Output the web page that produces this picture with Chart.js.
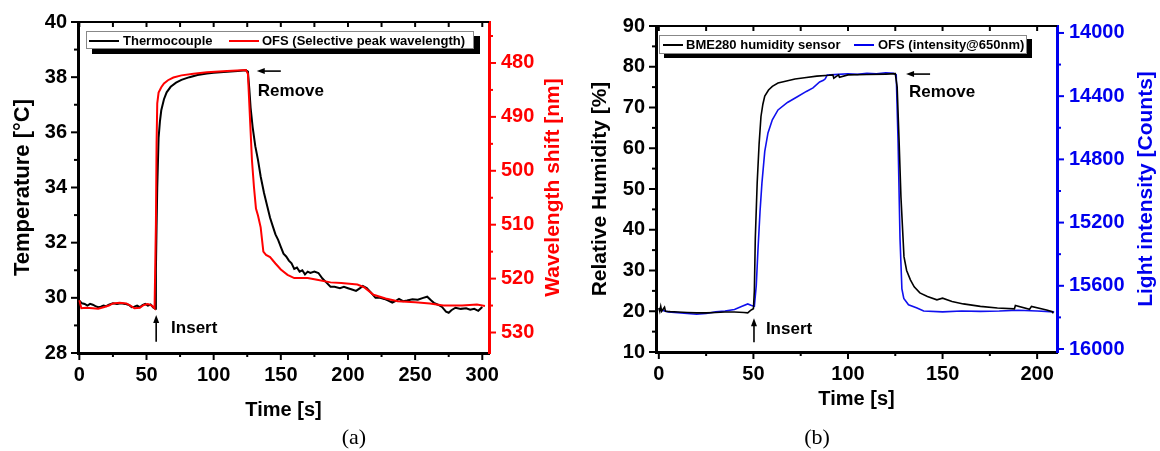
<!DOCTYPE html>
<html>
<head>
<meta charset="utf-8">
<script src="https://cdn.jsdelivr.net/npm/chart.js@4.4.1/dist/chart.umd.min.js"></script>
<style>
  body { margin: 0; background: #fff; }
  #wrap { position: relative; width: 1160px; height: 451px; overflow: hidden; }
  .pane { position: absolute; top: 0; width: 580px; height: 451px; }
  .lg { position: absolute; border: 1px solid #888; background: #fff; }
  .ln { position: absolute; top: 8px; height: 2px; }
  .tx { position: absolute; top: 0; font: bold 13px/17px "Liberation Sans", Arial, sans-serif; color: #000; white-space: nowrap; }
  .cap { position: absolute; top: 424px; width: 60px; text-align: center; font: 22px "Liberation Serif", "Times New Roman", serif; color: #000; }
</style>
</head>
<body>
<div id="wrap">
  <div class="pane" style="left:0"><canvas id="chartA" width="580" height="451"></canvas></div>
  <div class="pane" style="left:580px"><canvas id="chartB" width="580" height="451"></canvas></div>

  <div class="lg" style="left:86px;top:31px;width:386px;height:16px;box-shadow:6px 5px 0 #000;">
    <span class="ln" style="left:2px;width:30px;background:#000"></span>
    <span class="tx" style="left:36px">Thermocouple</span>
    <span class="ln" style="left:142px;width:30px;background:#ff0000"></span>
    <span class="tx" style="left:175px">OFS (Selective peak wavelength)</span>
  </div>
  <div class="lg" style="left:659px;top:35px;width:366px;height:17px;box-shadow:5px 4px 0 #000;">
    <span class="ln" style="left:3px;width:20px;background:#000"></span>
    <span class="tx" style="left:26px">BME280 humidity sensor</span>
    <span class="ln" style="left:194px;width:20px;background:#0000ee"></span>
    <span class="tx" style="left:218px">OFS (intensity@650nm)</span>
  </div>

  <div class="cap" style="left:324px">(a)</div>
  <div class="cap" style="left:787px">(b)</div>
</div>

<script>
Chart.defaults.font.family = '"Liberation Sans", Arial, sans-serif';
Chart.defaults.color = "#000";

// (a) temperature test
var timeTicksA = [0, 50, 100, 150, 200, 250, 300];
var timeMinorA = [25, 75, 125, 175, 225, 275];
var tempTicks = [28, 30, 32, 34, 36, 38, 40];
var tempMinor = [29, 31, 33, 35, 37, 39];
var wlTicks = [480, 490, 500, 510, 520, 530];
var wlMinor = [475, 485, 495, 505, 515, 525];

var tcTime = [0, 2, 4, 6, 8, 10, 12, 14, 16, 18, 20, 22, 25, 28, 31, 34, 37, 39, 41, 43, 45, 47, 49, 51, 53, 55, 56.5,
  57, 57.5, 58, 59, 60, 61, 63, 65, 68, 72, 76, 82, 88, 95, 100, 110, 118, 124,
  125.5, 126.5, 127.5, 129, 131, 133, 135, 137.5, 140, 142, 144, 146, 148, 150, 152, 154, 156, 158, 160, 162, 164, 166,
  168, 170, 172, 175, 178, 181, 184, 187, 190, 194, 197, 200, 203, 206, 209, 211, 214, 217, 220.5, 224, 227, 230, 233,
  236, 238, 241, 244, 248, 252, 256, 259, 262, 264, 267, 270, 273, 275, 277, 280, 284, 288, 291, 294, 297, 300];
var tcTemp = [29.9, 29.8, 29.78, 29.72, 29.78, 29.75, 29.7, 29.66, 29.68, 29.72, 29.7, 29.75, 29.8, 29.78, 29.8, 29.78, 29.74, 29.66, 29.68, 29.72, 29.66, 29.74, 29.78, 29.72, 29.76, 29.65, 29.6,
  31.0, 32.6, 34.0, 35.8, 36.4, 36.8, 37.2, 37.45, 37.65, 37.8, 37.9, 38.0, 38.08, 38.13, 38.16, 38.2, 38.22, 38.25,
  38.2, 37.6, 36.9, 36.2, 35.5, 35.0, 34.4, 33.8, 33.3, 32.9, 32.6, 32.3, 32.1, 31.85, 31.6, 31.5, 31.35, 31.25, 31.05, 31.1, 30.95, 31.0,
  30.85, 30.95, 30.9, 30.95, 30.9, 30.7, 30.55, 30.4, 30.4, 30.35, 30.4, 30.35, 30.3, 30.25, 30.35, 30.43, 30.35, 30.2, 30.0, 30.0, 29.96, 29.9, 29.83,
  29.9, 29.96, 29.88, 29.9, 29.95, 29.93, 30.0, 30.04, 29.9, 29.82, 29.75, 29.67, 29.5, 29.46, 29.55, 29.64, 29.6, 29.62, 29.57, 29.6, 29.53, 29.67];

var ofsTime = [0, 1.5, 5, 10, 14, 18, 22, 25, 30, 35, 38, 41, 45, 48, 51, 54, 56,
  57, 57.5, 58, 59, 61, 63, 66, 70, 76, 85, 95, 110, 124,
  125.5, 127, 128.5, 130, 131.5, 133, 135, 137, 139, 142, 146, 150, 155, 160, 170, 177, 187,
  195, 207, 212, 219, 228, 237, 250, 261, 271, 285, 296, 302];
var ofsWl = [524.0, 525.5, 525.4, 525.5, 525.6, 525.3, 525.0, 524.6, 524.5, 524.6, 525.0, 525.5, 525.4, 524.9, 524.7, 525.0, 525.5,
  510, 495, 487.5, 485.5, 484.5, 483.8, 483.2, 482.7, 482.3, 482.0, 481.7, 481.5, 481.3,
  482, 490, 498, 503, 507, 508.3, 510.5, 515.0, 515.6, 516.0, 517.2, 518.3, 519.3, 519.9, 519.9, 520.2, 520.7,
  520.8, 521.1, 521.6, 523.0, 523.7, 524.2, 524.4, 524.6, 525.0, 525.0, 524.8, 525.1];

// (b) humidity test
var timeTicksB = [0, 50, 100, 150, 200];
var timeMinorB = [25, 75, 125, 175];
var humTicks = [10, 20, 30, 40, 50, 60, 70, 80, 90];
var humMinor = [15, 25, 35, 45, 55, 65, 75, 85];
var cntTicks = [14000, 14400, 14800, 15200, 15600, 16000];
var cntMinor = [14200, 14600, 15000, 15400, 15800];

var bmeTime = [0, 0.5, 1, 1.5, 3, 3.5, 6, 10, 15, 20, 25, 30, 35, 40, 45, 47, 48.5, 49.5, 50,
  50.5, 51, 52, 53, 54, 55, 56, 58, 60, 63, 67.5, 72, 77, 83.5, 90, 92, 92.5, 95, 95.5, 100, 110, 120, 125,
  126, 127, 128, 129.6, 131, 133, 135, 138, 142, 147, 150, 155, 161, 170, 179, 188, 188.5, 196, 197, 205, 208, 208.5];
var bmeHum = [20.8, 20.0, 21.2, 20.0, 21.0, 20.0, 19.9, 19.8, 19.7, 19.6, 19.6, 19.7, 19.8, 19.8, 19.7, 19.6, 20.2, 20.5, 20.6,
  25, 38, 51.6, 61, 67.8, 70.8, 72.8, 74.3, 75.2, 76.0, 76.5, 77.0, 77.3, 77.7, 77.9, 78.0, 77.2, 78.0, 77.4, 78.0, 78.1, 78.2, 78.3,
  75, 62, 48, 33.4, 30.0, 27.7, 26.0, 24.5, 23.6, 22.8, 23.2, 22.4, 21.8, 21.2, 20.8, 20.6, 21.4, 20.5, 21.2, 20.3, 19.9, 19.5];

var ofsTimeB = [0, 5, 10, 15, 20, 25, 30, 35, 40, 44, 47, 49, 50.5, 51.5, 52.4, 53.5, 54.5, 56, 57.7, 60, 63, 68, 73, 78, 81.5,
  85, 87, 88, 89, 95, 100, 105, 110, 115, 120, 124,
  125.5, 126.5, 127.5, 128.5, 129.5, 132, 136.5, 140, 150, 160, 170, 180, 190, 200, 209];
var ofsCounts = [15750, 15765, 15770, 15775, 15780, 15775, 15765, 15760, 15750, 15730, 15715, 15725, 15730, 15600, 15374, 15130, 14950, 14750, 14633, 14550, 14487, 14440, 14405, 14370, 14348,
  14310, 14300, 14290, 14266, 14262, 14258, 14262, 14255, 14258, 14252, 14255,
  14265, 14700, 15300, 15620, 15680, 15720, 15740, 15760, 15765, 15760, 15762, 15760, 15755, 15760, 15765];

function pts(xs, ys) {
  return xs.map(function (x, i) { return { x: x, y: ys[i] }; });
}
function fixed(list) {
  return function (scale) { scale.ticks = list.map(function (v) { return { value: v }; }); };
}
function plain(v) { return String(v); }

// outward / inward tick marks incl. minor ticks, plus top frame line
var tickMarks = {
  id: "tickMarks",
  afterDraw: function (chart, args, opts) {
    var ctx = chart.ctx, a = chart.chartArea;
    ctx.save();
    ctx.lineCap = "butt";
    ctx.strokeStyle = "#000";
    ctx.lineWidth = 2;
    ctx.beginPath();
    ctx.moveTo(a.left, a.top);
    ctx.lineTo(a.right, a.top);
    ctx.stroke();
    opts.marks.forEach(function (m) {
      var s = chart.scales[m.scale];
      ctx.strokeStyle = m.color || "#000";
      ctx.lineWidth = 2;
      m.values.forEach(function (v) {
        var p = s.getPixelForValue(v);
        ctx.beginPath();
        if (m.edge === "bottom") { ctx.moveTo(p, a.bottom); ctx.lineTo(p, a.bottom + m.len); }
        if (m.edge === "top") { ctx.moveTo(p, a.top); ctx.lineTo(p, a.top + m.len); }
        if (m.edge === "left") { ctx.moveTo(a.left, p); ctx.lineTo(a.left - m.len, p); }
        if (m.edge === "right") { ctx.moveTo(a.right, p); ctx.lineTo(a.right + m.len, p); }
        ctx.stroke();
      });
    });
    ctx.restore();
  }
};

// right-hand axis title, reading bottom to top
var sideTitle = {
  id: "sideTitle",
  afterDraw: function (chart, args, o) {
    var a = chart.chartArea, ctx = chart.ctx;
    ctx.save();
    ctx.translate(o.x, (a.top + a.bottom) / 2);
    ctx.rotate(-Math.PI / 2);
    ctx.font = 'bold 21px "Liberation Sans", Arial, sans-serif';
    ctx.fillStyle = o.color;
    ctx.textAlign = "center";
    ctx.textBaseline = "middle";
    ctx.fillText(o.text, 0, 0);
    ctx.restore();
  }
};

// Remove / Insert arrows and labels, in data units
var notes = {
  id: "notes",
  afterDraw: function (chart, args, o) {
    var ctx = chart.ctx, sx = chart.scales.x, sy = chart.scales.y;
    ctx.save();
    ctx.strokeStyle = "#000";
    ctx.fillStyle = "#000";
    o.items.forEach(function (it) {
      if (it.arrow) {
        var x1 = sx.getPixelForValue(it.arrow[0]), y1 = sy.getPixelForValue(it.arrow[1]);
        var x2 = sx.getPixelForValue(it.arrow[2]), y2 = sy.getPixelForValue(it.arrow[3]);
        var ang = Math.atan2(y2 - y1, x2 - x1);
        ctx.lineWidth = 1.6;
        ctx.beginPath();
        ctx.moveTo(x1, y1);
        ctx.lineTo(x2 - 5 * Math.cos(ang), y2 - 5 * Math.sin(ang));
        ctx.stroke();
        ctx.beginPath();
        ctx.moveTo(x2, y2);
        ctx.lineTo(x2 - 8 * Math.cos(ang) + 3 * Math.sin(ang), y2 - 8 * Math.sin(ang) - 3 * Math.cos(ang));
        ctx.lineTo(x2 - 8 * Math.cos(ang) - 3 * Math.sin(ang), y2 - 8 * Math.sin(ang) + 3 * Math.cos(ang));
        ctx.closePath();
        ctx.fill();
      } else {
        ctx.font = 'bold 17px "Liberation Sans", Arial, sans-serif';
        ctx.textAlign = "left";
        ctx.textBaseline = "middle";
        ctx.fillText(it.text, sx.getPixelForValue(it.x), sy.getPixelForValue(it.y));
      }
    });
    ctx.restore();
  }
};

var tickFont = { size: 20, weight: "bold" };
var titleFont = { size: 21, weight: "bold" };

function lineSet(label, data, color, axis, width) {
  return { label: label, data: data, yAxisID: axis, borderColor: color, backgroundColor: color,
    borderWidth: width, pointRadius: 0, tension: 0, fill: false };
}

new Chart(document.getElementById("chartA"), {
  type: "line",
  data: {
    datasets: [
      lineSet("OFS (Selective peak wavelength)", pts(ofsTime, ofsWl), "#ff0000", "y1", 2),
      lineSet("Thermocouple", pts(tcTime, tcTemp), "#000000", "y", 2)
    ]
  },
  options: {
    responsive: false,
    animation: false,
    layout: { padding: { top: 22, left: 0, right: 0, bottom: 0 } },
    plugins: {
      legend: { display: false },
      tooltip: { enabled: false },
      tickMarks: { marks: [
        { scale: "x", edge: "bottom", values: timeTicksA, len: 7 },
        { scale: "x", edge: "bottom", values: timeMinorA, len: 4 },
        { scale: "x", edge: "top", values: timeTicksA.concat(timeMinorA), len: 5 },
        { scale: "y", edge: "left", values: tempTicks, len: 7 },
        { scale: "y", edge: "left", values: tempMinor, len: 4 },
        { scale: "y1", edge: "right", values: wlTicks, len: 7, color: "#ff0000" },
        { scale: "y1", edge: "right", values: wlMinor, len: 4, color: "#ff0000" }
      ] },
      sideTitle: { text: "Wavelength shift [nm]", color: "#ff0000", x: 553 },
      notes: { items: [
        { arrow: [150, 38.22, 132.1, 38.22] },
        { text: "Remove", x: 132.9, y: 37.5 },
        { arrow: [57.2, 28.41, 57.2, 29.38] },
        { text: "Insert", x: 68.3, y: 28.91 }
      ] }
    },
    scales: {
      x: {
        type: "linear", min: -1, max: 305,
        afterBuildTicks: fixed(timeTicksA),
        afterFit: function (s) { s.height = 98; },
        grid: { drawOnChartArea: false, tickLength: 7, tickColor: "rgba(0,0,0,0)" },
        border: { color: "#000", width: 3 },
        ticks: { font: tickFont, color: "#000", padding: 3, maxRotation: 0, autoSkip: false, callback: plain },
        title: { display: true, text: "Time [s]", color: "#000", font: { size: 20, weight: "bold" }, padding: { top: 0, bottom: 29 } }
      },
      y: {
        position: "left", min: 28, max: 40,
        afterBuildTicks: fixed(tempTicks),
        afterFit: function (s) { s.width = 78; },
        grid: { drawOnChartArea: false, tickLength: 7, tickColor: "rgba(0,0,0,0)" },
        border: { color: "#000", width: 3 },
        ticks: { font: tickFont, color: "#000", padding: 4, autoSkip: false, callback: plain },
        title: { display: true, text: "Temperature [\u00B0C]", color: "#000", font: { size: 22, weight: "bold" }, padding: { top: 10, bottom: 0 } }
      },
      y1: {
        position: "right", min: 472.4, max: 533.8, reverse: true,
        afterBuildTicks: fixed(wlTicks),
        afterFit: function (s) { s.width = 91; },
        grid: { drawOnChartArea: false, tickLength: 7, tickColor: "rgba(0,0,0,0)" },
        border: { color: "#ff0000", width: 3 },
        ticks: { font: tickFont, color: "#ff0000", padding: 5, autoSkip: false, callback: plain }
      }
    }
  },
  plugins: [tickMarks, sideTitle, notes]
});

new Chart(document.getElementById("chartB"), {
  type: "line",
  data: {
    datasets: [
      lineSet("BME280 humidity sensor", pts(bmeTime, bmeHum), "#000000", "y", 1.6),
      lineSet("OFS (intensity@650nm)", pts(ofsTimeB, ofsCounts), "#1010ee", "y1", 1.6)
    ]
  },
  options: {
    responsive: false,
    animation: false,
    layout: { padding: { top: 26, left: 0, right: 0, bottom: 0 } },
    plugins: {
      legend: { display: false },
      tooltip: { enabled: false },
      tickMarks: { marks: [
        { scale: "x", edge: "bottom", values: timeTicksB, len: 7 },
        { scale: "x", edge: "bottom", values: timeMinorB, len: 4 },
        { scale: "x", edge: "top", values: timeTicksB.concat(timeMinorB), len: 5 },
        { scale: "y", edge: "left", values: humTicks, len: 7 },
        { scale: "y", edge: "left", values: humMinor, len: 4 },
        { scale: "y1", edge: "right", values: cntTicks, len: 7, color: "#0000ee" },
        { scale: "y1", edge: "right", values: cntMinor, len: 4, color: "#0000ee" }
      ] },
      sideTitle: { text: "Light intensity [Counts]", color: "#0000ee", x: 566 },
      notes: { items: [
        { arrow: [143.4, 78.2, 130.7, 78.2] },
        { text: "Remove", x: 132.3, y: 73.8 },
        { arrow: [50.3, 12.4, 50.3, 18.3] },
        { text: "Insert", x: 56.6, y: 15.6 }
      ] }
    },
    scales: {
      x: {
        type: "linear", min: -1.5, max: 210.5,
        afterBuildTicks: fixed(timeTicksB),
        afterFit: function (s) { s.height = 99; },
        grid: { drawOnChartArea: false, tickLength: 7, tickColor: "rgba(0,0,0,0)" },
        border: { color: "#000", width: 3 },
        ticks: { font: tickFont, color: "#000", padding: 3, maxRotation: 0, autoSkip: false, callback: plain },
        title: { display: true, text: "Time [s]", color: "#000", font: { size: 20, weight: "bold" }, padding: { top: 0, bottom: 40 } }
      },
      y: {
        position: "left", min: 10, max: 90,
        afterBuildTicks: fixed(humTicks),
        afterFit: function (s) { s.width = 76; },
        grid: { drawOnChartArea: false, tickLength: 7, tickColor: "rgba(0,0,0,0)" },
        border: { color: "#000", width: 3 },
        ticks: { font: tickFont, color: "#000", padding: 4, autoSkip: false, callback: plain },
        title: { display: true, text: "Relative Humidity [%]", color: "#000", font: titleFont, padding: { top: 8, bottom: 0 } }
      },
      y1: {
        position: "right", min: 13956, max: 16019, reverse: true,
        afterBuildTicks: fixed(cntTicks),
        afterFit: function (s) { s.width = 103; },
        grid: { drawOnChartArea: false, tickLength: 7, tickColor: "rgba(0,0,0,0)" },
        border: { color: "#0000ee", width: 3 },
        ticks: { font: tickFont, color: "#0000ee", padding: 5, autoSkip: false, callback: plain }
      }
    }
  },
  plugins: [tickMarks, sideTitle, notes]
});
</script>
</body>
</html>
